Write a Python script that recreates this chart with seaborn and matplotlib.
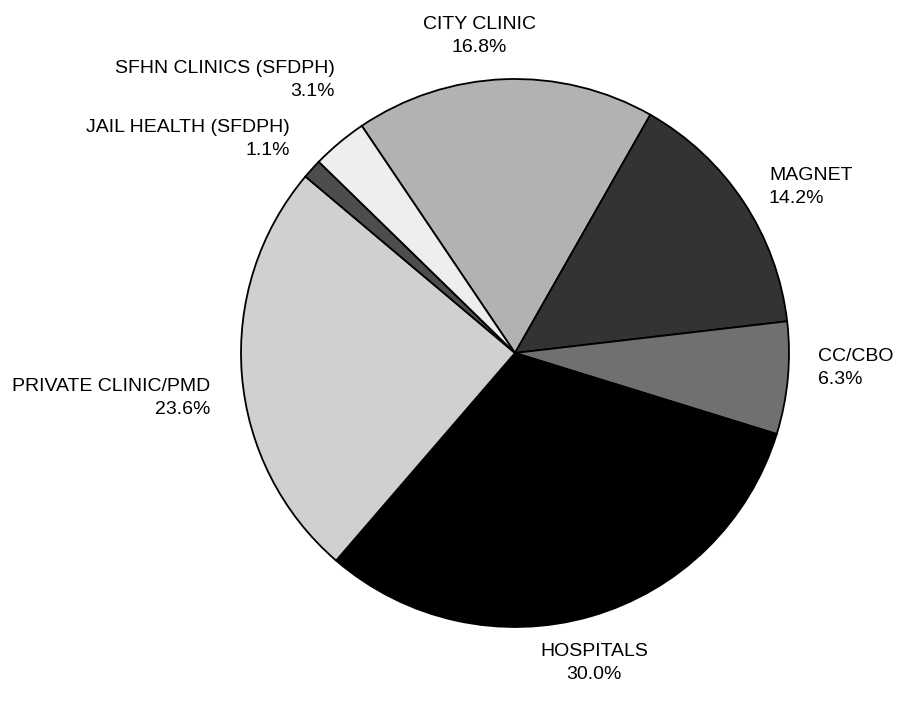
# Pie chart of share of reports by provider type, greyscale like the original.
import matplotlib
matplotlib.use("Agg")
import matplotlib.pyplot as plt
import seaborn as sns

# data
# ---
categories = ["CITY CLINIC", "MAGNET", "CC/CBO", "HOSPITALS",
              "PRIVATE CLINIC/PMD", "JAIL HEALTH (SFDPH)", "SFHN CLINICS (SFDPH)"]
percents = [16.8, 14.2, 6.3, 30.0, 23.6, 1.1, 3.1]

# styles / layout
# ---
colors = ["#b2b2b2", "#333333", "#707070", "#000000", "#d0d0d0", "#4d4d4d", "#eeeeee"]
# label anchor (x, y in pie radii) and alignment
label_pos = [(-0.131, 1.157), (0.927, 0.606), (1.106, -0.055), (0.288, -1.131),
             (-1.113, -0.164), (-0.821, 0.781), (-0.657, 0.996)]
label_ha = ["center", "left", "left", "center", "right", "right", "right"]

sns.set_theme(style="white")
plt.rcParams["font.family"] = ["Liberation Sans", "DejaVu Sans"]

fig = plt.figure(figsize=(8.98, 7.19), dpi=100)
ax = fig.add_axes([0, 0, 1, 1])

ax.pie(percents, colors=colors, startangle=124, counterclock=False,
       wedgeprops=dict(edgecolor="black", linewidth=1.3), radius=1.0,
       normalize=True)

# labels outside the pie
for txt, p, (x, y), ha in zip(categories, percents, label_pos, label_ha):
    ax.text(x, y, f"{txt}\n{p:.1f}%", ha=ha, va="center", multialignment=ha,
            fontsize=14, linespacing=1.5, color="black")

# map pie centre to pixel (515, 353), radius 274 px
ax.set_xlim(-515 / 274, (898 - 515) / 274)
ax.set_ylim(-(719 - 353) / 274, 353 / 274)
ax.set_aspect("auto")
ax.axis("off")

fig.savefig("out.png", dpi=100, facecolor="white")
plt.close(fig)
